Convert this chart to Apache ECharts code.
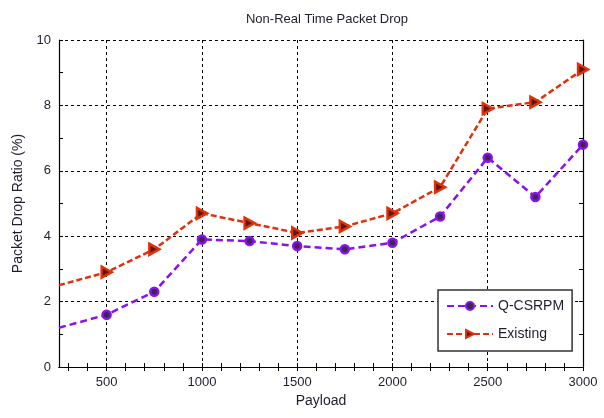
<!DOCTYPE html>
<html><head><meta charset="utf-8">
<script src="https://cdn.jsdelivr.net/npm/echarts@6/dist/echarts.min.js"></script>
<style>html,body{margin:0;padding:0;background:#fff}#c{width:604px;height:418px}</style>
</head><body><div id="c"></div>
<script>
var payload = [250, 500, 750, 1000, 1250, 1500, 1750, 2000, 2250, 2500, 2750, 3000];
var qcsrpm = [1.2, 1.6, 2.3, 3.9, 3.85, 3.7, 3.6, 3.8, 4.6, 6.4, 5.2, 6.8];
var existing = [2.5, 2.9, 3.6, 4.7, 4.4, 4.1, 4.3, 4.7, 5.5, 7.9, 8.1, 9.1];
var xLabels = [500, 1000, 1500, 2000, 2500, 3000];
var xTicks = [];
for (var t = 300; t <= 3000; t += 100) xTicks.push(t);

var FONT = 'Liberation Sans';
function pts(ys){ return payload.map(function(x,i){
  var d = {value:[x, ys[i]]};
  if (i === 0) d.symbolSize = 0;
  return d; }); }

var gridLine = {show:true, lineStyle:{color:'#000', type:[3,3], width:1}};
var axLine = {show:true, lineStyle:{color:'#000', width:1.2}};
var xTick = {show:true, inside:true, length:4, customValues:xTicks, lineStyle:{color:'#000'}};
var chart = echarts.init(document.getElementById('c'));
chart.setOption({
  animation:false,
  backgroundColor:'#fff',
  title:{text:'Non-Real Time Packet Drop', left:322, top:8, textAlign:'center',
    textStyle:{fontFamily:FONT, fontSize:13, fontWeight:'normal', color:'#1e1e2e'}},
  grid:{left:59, right:21, top:40, bottom:51},
  xAxis:[{
    type:'value', min:250, max:3000, splitNumber:5,
    name:'Payload', nameLocation:'middle', nameGap:26,
    nameTextStyle:{fontFamily:FONT, fontSize:14, color:'#1e1e2e'},
    axisLine:axLine,
    axisTick:{show:false, customValues:xLabels},
    axisLabel:{fontFamily:FONT, fontSize:13, color:'#1e1e2e', margin:9, customValues:xLabels,
      formatter:function(v){ return v % 500 === 0 ? String(v) : ''; }},
    splitLine:gridLine
  },{
    type:'value', min:250, max:3000, splitNumber:5, position:'top',
    axisLine:axLine,
    axisTick:xTick,
    axisLabel:{show:false}, splitLine:{show:false}
  },{
    type:'value', min:250, max:3000, splitNumber:5, position:'bottom',
    axisLine:axLine,
    axisTick:xTick,
    axisLabel:{show:false}, splitLine:{show:false}
  }],
  yAxis:[{
    type:'value', min:0, max:10, interval:2,
    name:'Packet Drop Ratio (%)', nameLocation:'middle', nameGap:34,
    nameTextStyle:{fontFamily:FONT, fontSize:14, color:'#1e1e2e'},
    axisLine:axLine,
    axisTick:{show:true, inside:true, length:4, lineStyle:{color:'#000'}},
    minorTick:{show:true, splitNumber:2, length:4, lineStyle:{color:'#000'}},
    axisLabel:{fontFamily:FONT, fontSize:13, color:'#1e1e2e', margin:8},
    splitLine:gridLine
  },{
    type:'value', min:0, max:10, interval:2, position:'right',
    axisLine:axLine,
    axisTick:{show:true, inside:true, length:4, lineStyle:{color:'#000'}},
    minorTick:{show:true, splitNumber:2, length:4, lineStyle:{color:'#000'}},
    axisLabel:{show:false}, splitLine:{show:false}
  }],
  legend:{
    orient:'vertical', left:438, top:290,
    padding:[8,8,9,8], itemGap:12, itemWidth:46, itemHeight:10,
    backgroundColor:'#fff', borderColor:'#333', borderWidth:1.5,
    textStyle:{fontFamily:FONT, fontSize:14, color:'#1e1e2e', lineHeight:16},
    data:['Q-CSRPM','Existing']
  },
  series:[{
    name:'Q-CSRPM', type:'line', data:pts(qcsrpm),
    symbol:'circle', symbolSize:8,
    lineStyle:{color:'#8a10f0', width:2.5, type:[7,4]},
    itemStyle:{color:'#3a2a48', borderColor:'#8a10f0', borderWidth:2.5},
    z:3
  },{
    name:'Existing', type:'line', data:pts(existing),
    symbol:'path://M0,0 L10,6 L0,12 Z', symbolSize:[10,11],
    lineStyle:{color:'#e0300c', width:2.5, type:[6,3]},
    itemStyle:{color:'#5a1a08', borderColor:'#e0300c', borderWidth:2.5},
    z:2
  }]
});
</script></body></html>
